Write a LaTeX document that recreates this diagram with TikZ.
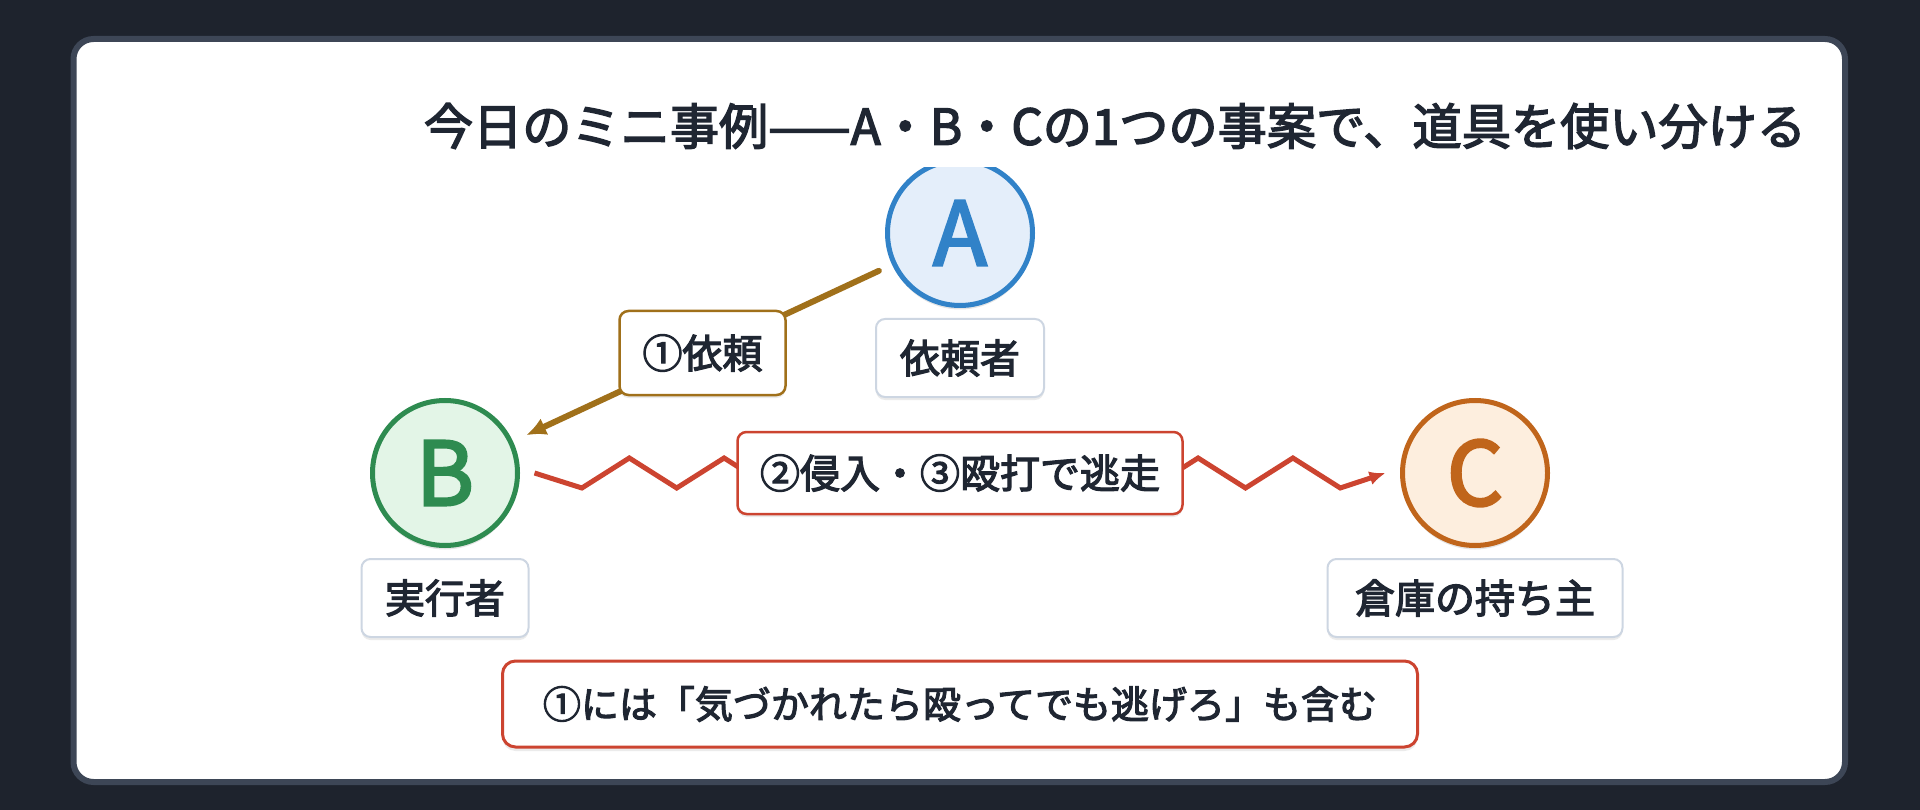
\documentclass[tikz,border=0pt]{standalone}
\usepackage{fontspec}
\setmainfont{Noto Sans CJK JP}
\newfontfamily\midweight{Noto Sans CJK JP}[FakeBold=3]
\usepackage{tikz}
\usetikzlibrary{arrows.meta}
\usetikzlibrary{decorations}
\usetikzlibrary{positioning}
\usetikzlibrary{shadows}

\definecolor{night}{HTML}{1E232D}
\definecolor{frame}{HTML}{3D4656}
\definecolor{ink}{HTML}{1F2632}
\definecolor{blueA}{HTML}{3182C8}
\definecolor{blueAfill}{HTML}{E4EEFA}
\definecolor{greenB}{HTML}{2E8B50}
\definecolor{greenBfill}{HTML}{E3F5E7}
\definecolor{orangeC}{HTML}{C0651B}
\definecolor{orangeCfill}{HTML}{FDEEDE}
\definecolor{request}{HTML}{A0701A}
\definecolor{attack}{HTML}{CC4430}
\definecolor{tagline}{HTML}{CDD6E2}

% zigzag that starts and ends on the centre line
\pgfdeclaredecoration{zigline}{first}{
  \state{first}[width=\pgfdecorationsegmentlength,next state=up]{
    \pgfpathlineto{\pgfpointorigin}
    \pgfpathlineto{\pgfpoint{\pgfdecorationsegmentlength}{-\pgfdecorationsegmentamplitude}}
  }
  \state{up}[width=\pgfdecorationsegmentlength,next state=down]{
    \pgfpathlineto{\pgfpoint{\pgfdecorationsegmentlength}{\pgfdecorationsegmentamplitude}}
  }
  \state{down}[width=\pgfdecorationsegmentlength,next state=up]{
    \pgfpathlineto{\pgfpoint{\pgfdecorationsegmentlength}{-\pgfdecorationsegmentamplitude}}
  }
  \state{final}{
    \pgfpathlineto{\pgfpointdecoratedpathlast}
  }
}

\begin{document}
\begin{tikzpicture}
    [
    x=1pt,y=-1pt,
    party/.style={circle,draw,line width=5pt,minimum size=145pt,inner sep=0pt,outer sep=17pt,
      font=\midweight\fontsize{88}{88}\selectfont,
      drop shadow={shadow xshift=0pt,shadow yshift=-4pt,opacity=.10,fill=black}},
    heading/.style={fill=white,inner sep=0pt,minimum height=82pt,text=ink,
      font=\midweight\fontsize{49.2}{49.2}\selectfont},
    tag/.style={draw=tagline,fill=white,line width=2pt,rounded corners=9pt,inner sep=0pt,
      minimum height=78pt,text=ink,font=\midweight\fontsize{40}{40}\selectfont,
      drop shadow={shadow xshift=0pt,shadow yshift=-3pt,opacity=.08,fill=black}},
    reqbox/.style={draw=request,fill=white,line width=2.5pt,rounded corners=9pt,inner sep=0pt,
      minimum width=166pt,minimum height=84pt,text=ink,font=\midweight\fontsize{40}{40}\selectfont,
      drop shadow={shadow xshift=0pt,shadow yshift=-3pt,opacity=.08,fill=black}},
    actbox/.style={draw=attack,fill=white,line width=2.5pt,rounded corners=9pt,inner sep=0pt,
      minimum width=445pt,minimum height=82pt,text=ink,font=\midweight\fontsize{40}{40}\selectfont,
      drop shadow={shadow xshift=0pt,shadow yshift=-3pt,opacity=.08,fill=black}},
    notebox/.style={draw=attack,fill=white,line width=3pt,rounded corners=13pt,inner sep=0pt,
      minimum width=915pt,minimum height=86pt,text=ink,font=\midweight\fontsize{38}{38}\selectfont,
      drop shadow={shadow xshift=0pt,shadow yshift=-4pt,opacity=.08,fill=black}},
    ]
    \useasboundingbox (0,0) rectangle (1920,810);
    \fill [night] (0,0) rectangle (1920,810);
    \draw [frame,fill=white,line width=6pt,rounded corners=20pt] (73.5,39) rectangle (1845,782);

    \node (A) at (960,233) [party,draw=blueA,fill=blueAfill,text=blueA] {A};
    \node (B) at (445,473) [party,draw=greenB,fill=greenBfill,text=greenB] {B};
    \node (C) at (1475,473) [party,draw=orangeC,fill=orangeCfill,text=orangeC] {C};

    \node (title) at (1115,126) [heading] {今日のミニ事例——A・B・Cの1つの事案で、道具を使い分ける};

    \node (roleA) [tag,minimum width=168pt,below=85pt of A.center] {依頼者};
    \node (roleB) [tag,minimum width=167pt,below=85pt of B.center] {実行者};
    \node (roleC) [tag,minimum width=295pt,below=85pt of C.center] {倉庫の持ち主};

    \draw [request,line width=6pt,line cap=round,-{Latex[length=20pt,width=18pt]}] (A) to node [reqbox] {①依頼} (B);
    \draw [attack,line width=5pt,-{Latex[length=16pt,width=14pt]},decorate,
      decoration={zigline,segment length=47.4pt,amplitude=15pt}] (B) -- node [actbox] {②侵入・③殴打で逃走} (C);

    \node (note) at (960,704) [notebox] {①には「気づかれたら殴ってでも逃げろ」も含む};
\end{tikzpicture}
\end{document}
